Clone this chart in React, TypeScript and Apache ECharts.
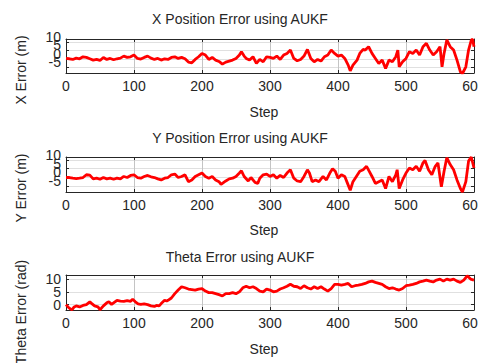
import React, { useEffect, useRef } from "react";
import * as echarts from "echarts";

// X position error (m)
const xSteps = [0,5,10,15,20,25,30,35,40,45,50,55,60,65,70,75,80,85,90,95,100,105,110,115,120,125,130,135,140,145,150,155,160,165,170,175,180,185,190,195,200,205,210,215,220,225,230,235,240,245,250,255,258,262,265,270,275,280,285,290,295,300,305,310,315,320,325,330,335,340,345,350,355,360,365,370,375,380,385,390,395,400,405,410,415,418,422,428,432,437,440,445,450,455,460,465,470,475,480,485,488,490,495,500,505,510,515,520,525,530,535,540,545,550,553,556,560,565,570,575,580,583,588,592,596,598,600];
const xErr = [0.2,0,-0.4,0.4,0,1.2,0.8,0,-0.8,-0.4,-1,0.8,-0.4,0.2,-0.6,0,0.4,1.6,0.8,1.2,2.2,0.2,-0.2,0.8,1.6,0.4,-0.4,0.2,-0.8,0,-0.4,0.8,1.2,0.2,0.8,0,-2,-2.4,-0.4,1.2,3.2,2.2,-0.4,0.8,-0.8,-1.6,-3.2,-2,-1.4,-0.8,0.2,2.2,4.2,1.6,0.2,-0.8,1.2,-2.8,-0.4,-1.8,1.2,0.8,0.2,1.6,-0.4,2.2,3.2,5.2,0.2,-1.2,-0.4,1.6,5.6,0.2,-1.8,-0.4,-1.4,1.2,2.2,5.2,3.2,1.6,2.2,0.2,-3.8,-7.2,-3.8,-0.8,3.2,5.6,5.2,7.2,3.2,0.2,-2.8,-0.8,-5.8,-0.8,-1.8,1.2,5.2,-4.8,-1.8,0.2,4.2,3.2,5.2,2.2,7.2,9.2,5.2,2.2,4.2,7.2,-4.8,3.2,11.2,7.2,5.2,-0.8,-7.8,-8.8,-4.8,5.2,11.2,11.6,7.2];

// Y position error (m)
const ySteps = [0,5,10,15,20,25,30,35,40,45,50,55,60,65,70,75,80,85,90,95,100,105,110,115,120,125,130,135,140,145,150,155,160,165,170,175,180,185,190,195,200,205,210,215,220,225,228,235,240,245,250,255,258,262,268,272,278,282,285,290,295,300,305,310,315,320,325,330,335,340,345,350,355,358,362,367,372,378,383,388,392,396,400,405,410,414,418,422,427,432,437,442,446,450,455,460,465,470,475,480,485,487,490,495,500,505,510,515,520,525,528,533,538,543,547,552,556,560,565,570,575,580,583,588,592,596,600];
const yErr = [-0.1,-0.1,-0.5,-0.7,-0.5,-0.1,1.5,1.3,-0.9,-0.5,-1.1,-0.1,-0.9,-0.5,-1.1,-0.5,-0.9,0.5,-0.1,1.1,1.5,-0.1,-0.5,0.5,1.1,0.3,-0.1,-0.9,-1.5,-0.5,-0.1,1.5,1.9,-0.1,0.5,1.5,-2.5,-1.5,0.5,1.5,2.5,0.5,-0.5,0.5,-1.5,-2.5,-4.1,-2.1,-0.9,-0.5,0.5,2.5,3.8,0.5,-2.1,-0.1,-2.9,-3.5,-0.5,1.5,1.9,0.5,1.5,-0.5,1.1,-0.1,2.5,4.4,-0.5,-2.1,-2.5,0.5,4.4,2.5,-2.5,-1.5,-2.5,0.5,-1.5,2.5,5,3.5,-0.5,1.5,0.5,-3.5,-7.5,-2.5,0.5,3.5,4.4,6.4,3.5,0.5,-3.5,-2.5,-1.5,-6.5,0.5,-2.5,1.5,4.4,-6.5,-1.5,2.5,5.4,4.4,6.4,3.5,8.4,9.8,4.4,1.5,6.4,8.4,-5.5,3.5,11.4,7.4,4.4,-1.5,-6.5,-8.6,-2.5,9.4,11.8,5.4];

// Theta error (rad)
const thSteps = [0,3,6,9,12,15,20,25,30,35,38,42,47,50,55,60,63,67,70,75,80,85,90,95,98,102,106,110,115,120,125,130,133,137,140,145,148,150,155,160,165,170,175,180,185,190,195,200,205,210,215,220,225,230,235,240,245,250,255,260,265,270,275,280,285,290,295,300,305,310,315,320,325,330,335,340,345,350,355,360,365,370,375,380,385,390,395,400,405,410,415,420,425,430,435,440,445,450,455,460,465,470,475,480,485,490,495,500,505,510,515,520,525,530,535,540,545,550,555,560,565,570,575,580,585,590,595,600];
const thErr = [0,-0.9,-1.6,-2,-0.9,-0.5,-0.9,-0.3,0,1.1,0.4,-0.5,-0.9,-2,-0.5,0.7,1.1,0.1,0.7,1.7,1.4,1.3,1.6,1.3,2.1,1.1,0.3,0.1,0.3,0,-0.5,-0.7,-0.3,-0.5,0.4,1.7,1.4,1.7,2.6,4.3,5.7,7,6.6,6.1,5.9,5.7,6.1,6.3,5.3,4.7,4.7,4.3,3.9,3.4,4.3,4.3,4.7,4.3,5,6.6,7.2,6.6,7,6.3,5.3,5,6.1,5.7,5,5.3,6.1,6.6,7.2,8,7.2,7,6.3,7.4,6.6,6.1,7,6.3,7,6.1,5.3,6.3,7.9,7.9,7.6,7.9,8.3,7,7.4,7.6,7.9,8.3,8.9,9.2,8.7,8.3,7.9,7,6.3,6.6,6.1,5.7,6.3,7.4,7.6,7.9,8.3,8.9,9.2,9.6,9.2,8.9,9.6,10,9.2,10,9.6,10,9.2,8.7,9.6,11.3,10,9.6];

const titles = ["X Position Error using AUKF", "Y Position Error using AUKF", "Theta Error using AUKF"];
const yNames = ["X Error (m)", "Y Error (m)", "Theta Error (rad)"];
const xName = "Step";

const FONT = "'Liberation Sans', Arial, Helvetica, sans-serif";
const TXT = "#262626";

export default function App() {
  const ref = useRef<HTMLDivElement>(null);
  useEffect(() => {
    if (!ref.current) return;
    const chart = echarts.init(ref.current, null, { renderer: "svg" });

    const grids = [
      { left: 66, right: 4, top: 39, height: 34, outerBoundsMode: "none", containLabel: false },
      { left: 66, right: 4, top: 157, height: 35, outerBoundsMode: "none", containLabel: false },
      { left: 66, right: 4, top: 275, height: 35, outerBoundsMode: "none", containLabel: false },
    ];
    const yRanges = [
      [-8.5, 11.8],
      [-8.5, 11.8],
      [-2.1, 11.6],
    ];
    const shiftUp = [true, true, false];

    const xAxis: any[] = [];
    const yAxis: any[] = [];
    grids.forEach((_, g) => {
      const lineStyle = { color: TXT, width: 1 };
      xAxis.push({
        gridIndex: g, type: "value", min: 0, max: 600, interval: 100, position: "bottom",
        axisLine: { show: true, onZero: false, lineStyle },
        axisTick: { show: true, inside: true, length: 3, lineStyle },
        axisLabel: { color: TXT, fontSize: 14, fontFamily: FONT, margin: 6, hideOverlap: false },
        splitLine: { show: true, lineStyle: { color: "#c4c4c4", width: 1 } },
      });
      xAxis.push({
        gridIndex: g, type: "value", min: 0, max: 600, interval: 100, position: "top",
        axisLine: { show: true, onZero: false, lineStyle },
        axisTick: { show: true, inside: true, length: 3, lineStyle },
        axisLabel: { show: false },
        splitLine: { show: false },
      });
      const [mn, mx] = yRanges[g];
      const base = {
        gridIndex: g, type: "value", min: mn, max: mx, splitNumber: 3, minInterval: 5, maxInterval: 5,
      };
      yAxis.push({
        ...base, position: "left",
        axisLine: { show: true, onZero: false, lineStyle },
        axisTick: { show: true, inside: true, length: 3, lineStyle },
        axisLabel: {
          color: TXT, fontSize: 14, fontFamily: FONT, margin: 5,
          showMinLabel: false, showMaxLabel: false, hideOverlap: false,
          verticalAlign: shiftUp[g] ? "bottom" : "middle",
          lineHeight: shiftUp[g] ? 10 : 14,
        },
        splitLine: { show: true, lineStyle: { color: "#e0e0e0", width: 1 } },
      });
      yAxis.push({
        ...base, position: "right",
        axisLine: { show: true, onZero: false, lineStyle },
        axisTick: { show: true, inside: true, length: 3, lineStyle },
        axisLabel: { show: false },
        splitLine: { show: false },
      });
    });

    const datasets = [
      xSteps.map((s, i) => [s, xErr[i]]),
      ySteps.map((s, i) => [s, yErr[i]]),
      thSteps.map((s, i) => [s, thErr[i]]),
    ];

    const series = datasets.map((d, g) => ({
      type: "line",
      xAxisIndex: g * 2,
      yAxisIndex: g * 2,
      data: d,
      showSymbol: false,
      symbol: "none",
      clip: true,
      lineStyle: { color: "#ff0000", width: 2.8 },
      z: 5,
    }));

    const titleY = [19, 138, 257];
    const stepY = [112, 230, 349];
    const yNameY = [70, 188, 312];

    const graphic: any[] = [];
    titles.forEach((t, i) => {
      graphic.push({
        type: "text", x: 240, y: titleY[i],
        style: { text: t, fill: TXT, font: `14px ${FONT}`, textAlign: "center", textVerticalAlign: "middle" },
      });
      graphic.push({
        type: "text", x: 264, y: stepY[i],
        style: { text: xName, fill: TXT, font: `14px ${FONT}`, textAlign: "center", textVerticalAlign: "middle" },
      });
      graphic.push({
        type: "text", x: 21, y: yNameY[i], rotation: Math.PI / 2,
        style: { text: yNames[i], fill: TXT, font: `14px ${FONT}`, textAlign: "center", textVerticalAlign: "middle" },
      });
    });

    chart.setOption({
      animation: false,
      backgroundColor: "#ffffff",
      grid: grids,
      xAxis,
      yAxis,
      series,
      graphic,
    });
    return () => chart.dispose();
  }, []);
  return (
    <div
      ref={ref}
      style={{ position: "absolute", left: 0, top: 0, width: 478, height: 363 }}
    />
  );
}
